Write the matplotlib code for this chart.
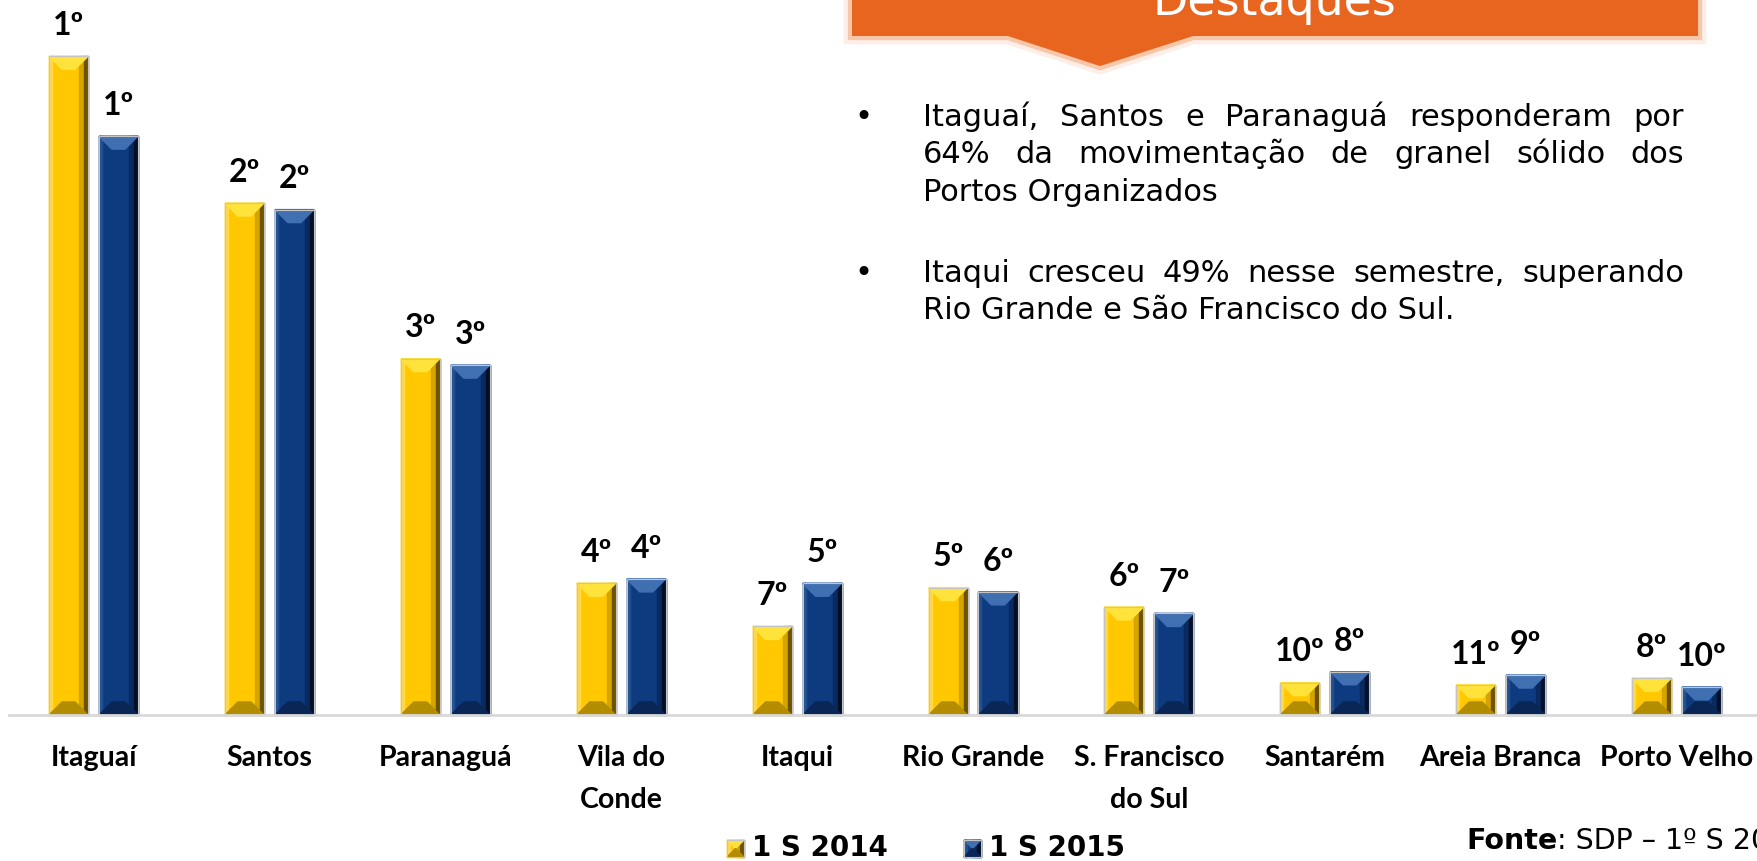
import numpy as np
import matplotlib.pyplot as plt
from matplotlib.patches import Polygon, Rectangle
import matplotlib.patheffects as pe

# Granel sólido - movimentação por porto (milhões de t)
ports = ["Itaguaí", "Santos", "Paranaguá", "Vila do\nConde", "Itaqui",
         "Rio Grande", "S. Francisco\ndo Sul", "Santarém", "Areia Branca", "Porto Velho"]
mov_2014 = [30.5, 23.7, 16.5, 6.1, 4.1, 5.9, 5.0, 1.5, 1.4, 1.7]
mov_2015 = [26.8, 23.4, 16.2, 6.3, 6.1, 5.7, 4.7, 2.0, 1.85, 1.3]
rank_2014 = ["1º", "2º", "3º", "4º", "7º", "5º", "6º", "10º", "11º", "8º"]
rank_2015 = ["1º", "2º", "3º", "4º", "5º", "6º", "7º", "8º", "9º", "10º"]
series = ["1 S 2014", "1 S 2015"]

box_title = "Destaques"
bullets = [
    ["Itaguaí, Santos e Paranaguá responderam por",
     "64% da movimentação de granel sólido dos",
     "Portos Organizados"],
    ["Itaqui cresceu 49% nesse semestre, superando",
     "Rio Grande e São Francisco do Sul."],
]
source_bold = "Fonte"
source_rest = ": SDP – 1º S 2015"

W, H = 1757, 862
fig = plt.figure(figsize=(W / 100, H / 100), dpi=100)

gold = dict(face="#FFC800", top="#FFE23A", bottom="#B38C00", right="#6E5200",
            right2="#D6A400", left="#FFD84A")
navy = dict(face="#0E3A80", top="#4170B2", bottom="#0A2656", right="#020F28",
            right2="#082A5E", left="#23518F")

ax = fig.add_axes([9 / W, 146 / H, (W - 9) / W, 716 / H])
ax.set_xlim(-0.4804, 9.457)
ax.set_ylim(0, 33.15)
sx = (W - 9) / (9.457 + 0.4804)   # px per x unit
sy = 716 / 33.15                  # px per y unit


def bevel(x0, y0, w, h, sx, sy, pal, tr, target):
    """Flat bar with a beveled look: lit top, shaded bottom and right side."""
    d = min(13, w * sx / 2, h * sy / 2)
    dx, dy = d / sx, d / sy
    x1, y1 = x0 + w, y0 + h
    parts = [
        Rectangle((x0, y0), w, h, color=pal["face"]),
        Rectangle((x0, y0), 3 / sx, h, color=pal["left"]),
        Rectangle((x1 - 9 / sx, y0), 5 / sx, h, color=pal["right2"]),
        Rectangle((x1 - 4 / sx, y0), 4 / sx, h, color=pal["right"]),
        Polygon([(x0, y1), (x1, y1), (x1 - dx, y1 - dy), (x0 + dx, y1 - dy)],
                closed=True, color=pal["top"]),
        Polygon([(x0, y0), (x1, y0), (x1 - dx, y0 + dy), (x0 + dx, y0 + dy)],
                closed=True, color=pal["bottom"]),
        Rectangle((x0, y0), w, h, fill=False, ec="#C4C4C4", lw=0.8),
    ]
    for p in parts:
        p.set_transform(tr)
        p.set_clip_on(False)
        target.add_artist(p) if target is fig else target.add_patch(p)


x = np.arange(len(ports))
bw, off = 0.222, 0.142
bars_a = ax.bar(x - off, mov_2014, bw, color="none")
bars_b = ax.bar(x + off, mov_2015, bw, color="none")
for bars, pal, ranks in [(bars_a, gold, rank_2014), (bars_b, navy, rank_2015)]:
    for b, r in zip(bars, ranks):
        bevel(b.get_x(), 0, b.get_width(), b.get_height(), sx, sy, pal,
              ax.transData, ax)
        ax.annotate(r, (b.get_x() + b.get_width() / 2, b.get_height()),
                    xytext=(0, 16), textcoords="offset points", ha="center",
                    va="baseline", fontsize=23, fontweight="bold",
                    family="Lato", color="black")

for s in ["top", "right", "left"]:
    ax.spines[s].set_visible(False)
ax.spines["bottom"].set_color("#D9D9D9")
ax.spines["bottom"].set_linewidth(2)
ax.set_yticks([])
ax.set_xticks(x)
ax.set_xticklabels(ports, fontsize=20.5, fontweight="bold", family="Lato",
                   linespacing=1.75)
ax.tick_params(axis="x", length=0, pad=21)

# legend with beveled squares
leg_items = [(727, series[0], gold), (964, series[1], navy)]
for px, lab, pal in leg_items:
    bevel(px / W, (H - 858) / H, 17 / W, 17 / H, W, H, pal, fig.transFigure, fig)
    fig.text((px + 25) / W, (H - 856) / H, lab, fontsize=20, fontweight="bold",
             family="DejaVu Sans", va="baseline", ha="left")

# orange highlight banner
banner = Polygon([(852, -12), (1698, -12), (1698, 37), (1193, 37), (1100, 67),
                  (1008, 37), (852, 37)], closed=True, facecolor="#E8651F",
                 edgecolor="none", transform=None)
banner.set_xy([(px, H - py) for px, py in banner.get_xy()])
banner.set_path_effects([
    pe.Stroke(linewidth=12, foreground="#FCE1D0", alpha=0.5),
    pe.Stroke(linewidth=6, foreground="#F7B690", alpha=0.7),
    pe.Normal()])
fig.add_artist(banner)
fig.text(1274 / W, (H - 15) / H, box_title, ha="center", va="baseline",
         fontsize=33, color="white", family="DejaVu Sans")

# justified bullet text
renderer = fig.canvas.get_renderer()
body_size = 22
left_px, right_px = 923, 1684
baselines = [[126, 163, 201], [282, 319]]


def text_width(s, **kw):
    t = fig.text(0, 0, s, **kw)
    w = t.get_window_extent(renderer).width
    t.remove()
    return w


for para, ys in zip(bullets, baselines):
    fig.text(863 / W, (H - ys[0]) / H, "•", ha="center", va="baseline",
             fontsize=body_size, family="DejaVu Sans")
    for i, (line, y) in enumerate(zip(para, ys)):
        last = i == len(para) - 1
        if last:
            fig.text(left_px / W, (H - y) / H, line, ha="left", va="baseline",
                     fontsize=body_size, family="DejaVu Sans")
            continue
        words = line.split()
        widths = [text_width(wd, fontsize=body_size, family="DejaVu Sans") for wd in words]
        gap = (right_px - left_px - sum(widths)) / (len(words) - 1)
        cx = left_px
        for wd, ww in zip(words, widths):
            fig.text(cx / W, (H - y) / H, wd, ha="left", va="baseline",
                     fontsize=body_size, family="DejaVu Sans")
            cx += ww + gap

# source note
fx = 1466
fig.text(fx / W, (H - 849) / H, source_bold, fontweight="bold", fontsize=20.5,
         family="DejaVu Sans", va="baseline")
bw_px = text_width(source_bold, fontweight="bold", fontsize=20.5, family="DejaVu Sans")
fig.text((fx + bw_px) / W, (H - 849) / H, source_rest, fontsize=20.5,
         family="DejaVu Sans", va="baseline")

fig.savefig("out.png", dpi=100)
